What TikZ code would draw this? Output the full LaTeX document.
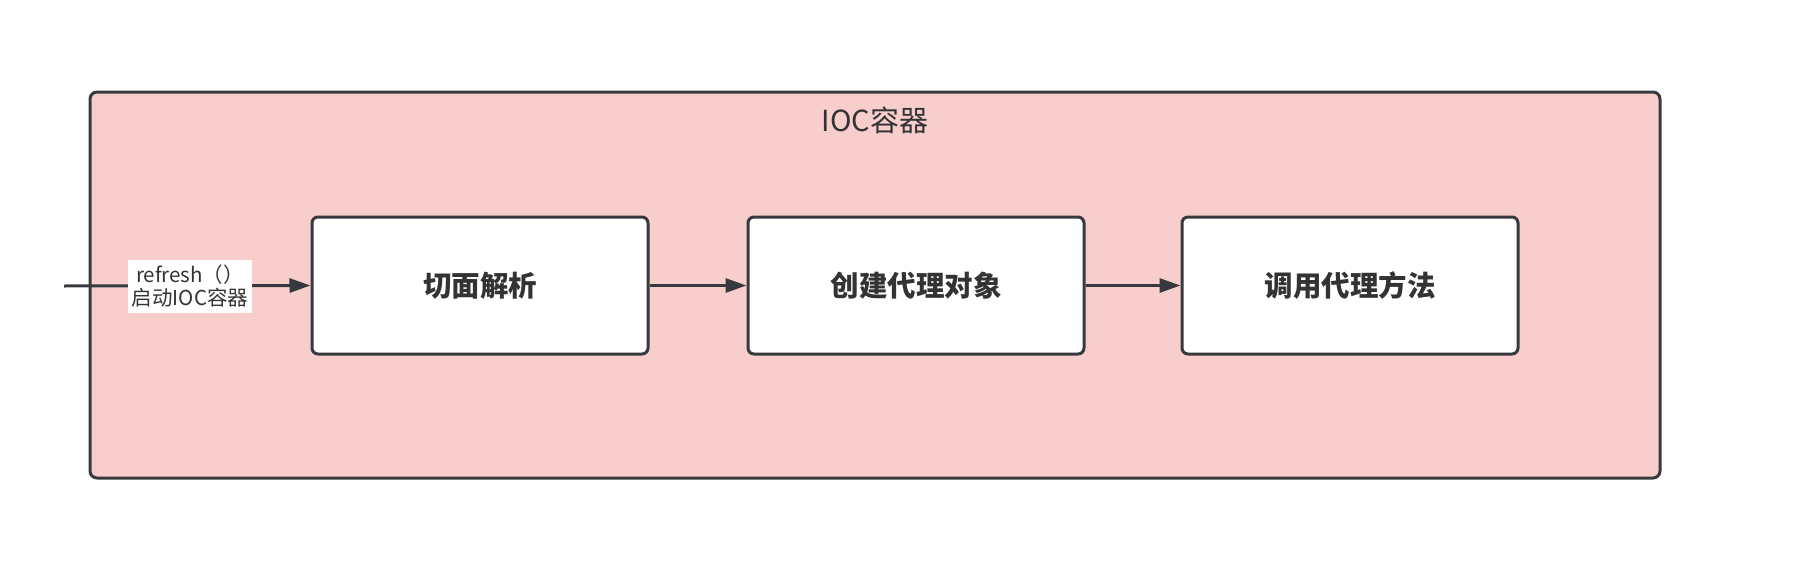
\documentclass[tikz,border=0pt]{standalone}
\usepackage{fontspec}
\setmainfont{Liberation Sans}
\newfontfamily\cjk{Noto Sans CJK SC}
\usetikzlibrary{arrows.meta}
\definecolor{pinkfill}{HTML}{F8CECC}
\definecolor{strokec}{HTML}{36393D}
\definecolor{textc}{HTML}{333333}
\tikzset{
  stepbox/.style={draw=strokec, line width=3pt, fill=white, rounded corners=6pt,
    minimum width=336pt, minimum height=137pt, inner sep=0pt,
    font=\cjk\bfseries\fontsize{28.5}{34}\selectfont, text=textc},
  conn/.style={draw=strokec, line width=3pt, -{Triangle[length=21pt,width=14pt]}},
}
\begin{document}
\begin{tikzpicture}[x=1pt,y=-1pt]
\useasboundingbox (0,0) rectangle (1816,562);
\draw[draw=strokec, line width=3pt, fill=pinkfill, rounded corners=7pt] (90,92) rectangle (1660,478);
\node[font=\cjk\fontsize{29}{34}\selectfont, text=textc] (title) at (875,120) {IOC容器};
\node[stepbox] (a) at (480,285.5) {切面解析};
\node[stepbox] (b) at (916,285.5) {创建代理对象};
\node[stepbox] (c) at (1350,285.5) {调用代理方法};
\coordinate (start) at (64,286);
\draw[conn] (start) -- (a.west);
\node[fill=white, inner sep=1pt, minimum width=124pt, minimum height=53pt, align=center,
  font=\cjk\fontsize{20.5}{23}\selectfont, text=textc] (lbl) at (190,286.5) {refresh（）\\启动IOC容器};
\draw[conn] (a) -- (b);
\draw[conn] (b) -- (c);
\end{tikzpicture}
\end{document}
